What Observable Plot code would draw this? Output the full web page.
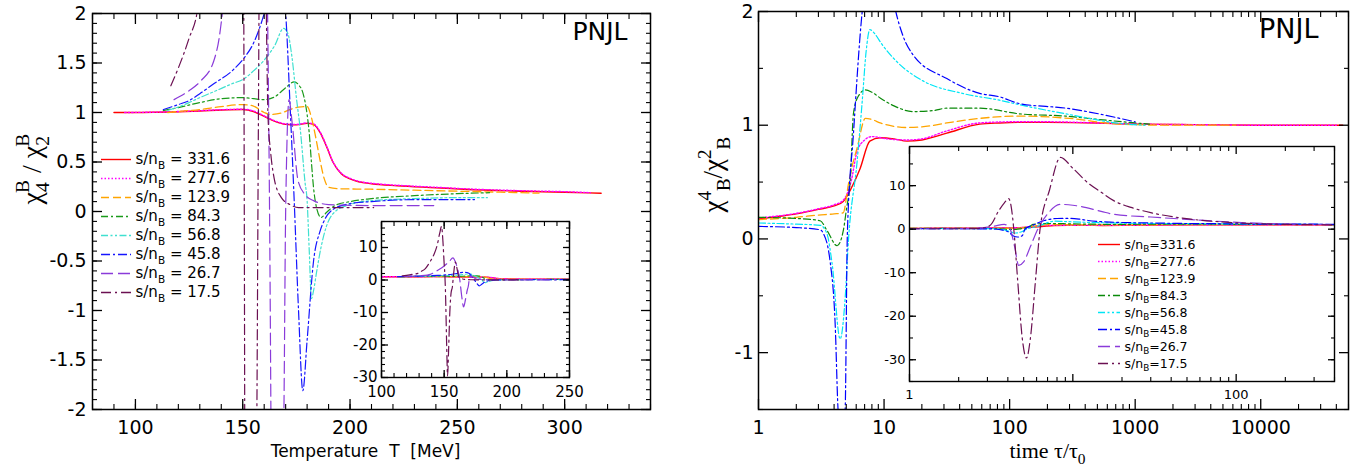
<!DOCTYPE html>
<html><head><meta charset="utf-8">
<script src="https://cdn.jsdelivr.net/npm/d3@7"></script>
<script src="https://cdn.jsdelivr.net/npm/@observablehq/plot@0.6"></script>
<style>
html,body{margin:0;padding:0;background:#fff;}
#wrap{position:relative;width:1369px;height:469px;overflow:hidden;background:#fff;}
#wrap svg{position:absolute;overflow:visible;}
</style></head><body><div id="wrap"></div>
<script>
// ================= DATA =================
const seriesNames = ["331.6","277.6","123.9","84.3","56.8","45.8","26.7","17.5"];

// Left panel: [temperature T (MeV), chi4/chi2]
const L_331_6 = [[90,1.0],[100,1.0],[110,1.003],[120,1.008],[130,1.015],[140,1.025],[150,1.03],[155,1.01],[160,0.96],[165,0.91],[170,0.88],[175,0.875],[180,0.89],[183,0.88],[186,0.8],[189,0.66],[192,0.5],[196,0.38],[200,0.33],[204,0.3],[210,0.28],[222,0.26],[240,0.24],[253,0.225],[280,0.205],[300,0.195],[317,0.185]];
const L_277_6 = [[95,1.0],[110,1.004],[120,1.01],[130,1.018],[140,1.028],[150,1.033],[155,1.015],[160,0.965],[165,0.915],[170,0.885],[175,0.88],[180,0.895],[183,0.885],[186,0.805],[189,0.665],[192,0.505],[196,0.385],[200,0.335],[204,0.305],[210,0.285],[222,0.265],[240,0.245],[253,0.23],[280,0.21],[300,0.2],[312,0.19]];
const L_123_9 = [[115,1.0],[120,1.01],[130,1.03],[140,1.06],[150,1.08],[155,1.065],[160,1.0],[163,0.98],[168,0.995],[172,1.03],[176,1.055],[180,1.06],[182,0.95],[184,0.75],[186,0.52],[188,0.33],[190,0.245],[195,0.23],[210,0.225],[230,0.215],[250,0.205],[270,0.195],[288,0.185]];
const L_84_3 = [[113,1.02],[120,1.05],[130,1.1],[140,1.14],[150,1.15],[155,1.14],[160,1.13],[165,1.16],[170,1.25],[174,1.31],[176,1.28],[178,1.2],[180,0.98],[181,0.79],[182,0.5],[183,0.24],[184,0.08],[186.5,-0.06],[189,-0.01],[193,0.06],[200,0.1],[210,0.13],[230,0.16],[250,0.18],[265,0.19]];
const L_56_8 = [[115,1.02],[118,1.04],[125,1.1],[130,1.15],[136.5,1.21],[145,1.29],[150.6,1.34],[155,1.42],[160,1.53],[165,1.68],[169,1.85],[171,1.8],[173,1.55],[175,1.15],[177,0.79],[179,0.3],[180,0.11],[181,-0.4],[182,-0.88],[183,-0.8],[184.5,-0.6],[186.5,-0.36],[189,-0.15],[192.6,-0.01],[200,0.07],[210,0.11],[230,0.13],[250,0.14],[264,0.14]];
const L_45_8 = [[113,1.03],[120,1.08],[125,1.12],[130,1.19],[136.5,1.29],[145,1.42],[150.6,1.55],[155,1.7],[160,2.0],[163,2.25],[166,2.4],[168,2.3],[170,2.0],[172,1.1],[174,0.1],[176,-1.0],[178,-1.81],[180,-1.3],[183,-0.5],[186,-0.2],[188,-0.09],[192,0.02],[200,0.08],[210,0.1],[230,0.12],[258,0.12]];
const L_26_7 = [[118,1.13],[125,1.22],[130.5,1.32],[136.5,1.52],[139,1.75],[140.5,2.0],[145,3.0],[150,4.3],[154,5.7],[157,6.8],[159,5.5],[161,3.0],[162.5,0.0],[164,-5],[165.5,-8.3],[167,-6],[168.5,-3],[169.2,-2],[170,0],[171.6,1.13],[173,0.9],[175.8,0.31],[179,0.17],[183,0.11],[190,0.07],[210,0.06],[239,0.06]];
const L_17_5 = [[116.5,1.27],[120,1.45],[125,1.75],[129,2.05],[131,2.5],[135,3.5],[139,5.8],[142,8],[144.6,11],[146.5,14.5],[147.9,16.5],[149,12],[150,5],[150.5,2],[151,-3],[152,-20],[152.7,-29.5],[153.5,-22],[154.5,-10],[155.5,-4],[156.6,-2],[157.2,0.5],[158,3.5],[159,5.5],[160,4],[161,2],[161.8,0.95],[163,0.6],[164.6,0.34],[168,0.14],[172,0.07],[176,0.04],[190,0.04],[211,0.04]];

// Right panel: [time tau/tau0, chi4/chi2]
const R_331_6 = [[1,0.175],[1.5,0.2],[2,0.22],[3,0.26],[4,0.29],[4.73,0.33],[5.5,0.45],[6.45,0.62],[7.7,0.86],[9.3,0.89],[12,0.88],[15.2,0.86],[20,0.87],[31.6,0.93],[57.7,1.01],[83,1.02],[120,1.025],[200,1.025],[500,1.02],[1000,1.01],[3000,1.005],[10000,1.0],[45000,1.0]];
const R_277_6 = [[1,0.185],[1.5,0.205],[2,0.225],[3,0.265],[4,0.3],[4.73,0.34],[5.5,0.52],[6.1,0.77],[7,0.87],[8,0.9],[10.6,0.88],[15.2,0.87],[20,0.88],[31.6,0.95],[57.7,1.02],[105,1.03],[200,1.03],[500,1.02],[1000,1.01],[3000,1.005],[10000,1.0],[40000,1.0]];
const R_123_9 = [[1,0.17],[2,0.19],[3,0.21],[4,0.22],[4.73,0.23],[5.2,0.48],[5.6,0.65],[6.1,0.8],[7.1,1.06],[8,1.05],[9.3,1.02],[12,0.99],[15.2,0.98],[20,0.985],[31.6,1.02],[57.7,1.06],[120,1.08],[300,1.06],[740,1.01],[2000,1.0],[6300,1.0]];
const R_84_3 = [[1,0.19],[2,0.18],[3.1,0.16],[3.53,0.07],[4.23,-0.06],[4.73,0.07],[5.0,0.25],[5.4,0.55],[5.7,1.1],[6.2,1.25],[7.1,1.31],[8,1.29],[9.3,1.24],[12,1.17],[17,1.12],[25,1.13],[31.6,1.15],[57.7,1.15],[120,1.1],[280,1.08],[520,1.05],[1000,1.02],[1300,1.01]];
const R_56_8 = [[1,0.14],[2,0.13],[3.1,0.12],[3.5,0.05],[3.86,-0.22],[4.47,-0.88],[4.9,-0.52],[5.2,-0.02],[6.1,0.68],[6.7,1.21],[7.2,1.65],[7.7,1.84],[8.5,1.8],[9.5,1.72],[12.6,1.56],[20.4,1.39],[42,1.28],[83,1.22],[120,1.18],[280,1.1],[850,1.01],[1200,1.0]];
const R_45_8 = [[1,0.11],[2,0.1],[3.1,0.08],[3.28,0.05],[3.72,-0.2],[4.08,-0.75],[4.3,-1.5],[4.6,-1.8],[4.9,-1.5],[5.1,0.04],[5.7,0.92],[6.7,2.0],[8,2.45],[9.5,2.5],[11,2.3],[12.4,2.0],[14,1.8],[17,1.62],[31.6,1.41],[57.7,1.28],[83,1.25],[120,1.19],[280,1.15],[1000,1.03]];
const R_26_7 = [[1,0.1],[2,0.1],[2.8,0.3],[3.3,0.7],[3.8,1.1],[4.1,0.3],[4.4,-4],[4.66,-8.3],[5.0,-7.5],[5.5,-4],[6.1,0],[7,3.5],[8.4,5.7],[10,5.5],[14.9,4.1],[17.9,3.4],[30,2.8],[53,2.2],[97,1.6],[200,1.2],[400,1.05]];
const R_17_5 = [[1,0.1],[2,0.1],[2.5,0.15],[2.84,0.3],[3.14,1.0],[3.5,4.1],[3.8,6.0],[4.05,7.0],[4.2,5],[4.35,0],[4.6,-12],[4.9,-25],[5.2,-29.6],[5.5,-25],[5.9,-12],[6.3,0],[7.2,9],[8.4,16.5],[10,14],[12.5,10.5],[14.9,8.5],[17.9,6.5],[22.7,5.0],[30,3.8],[52.8,2.3],[97,1.5],[200,1.1],[400,1.0]];

// tick values
const leftXMajor = [100,150,200,250,300];
const leftYMajor = [-2,-1.5,-1,-0.5,0,0.5,1,1.5,2];
const leftInsetXMajor = [100,150,200,250];
const insetYMajor = [-30,-20,-10,0,10];
const rightXMajor = [1,10,100,1000,10000];
const rightYMajor = [-1,0,1,2];
const rightYMinor = [-1.5,-0.5,0.5,1.5];
const rightInsetXLabels = [1,100];

// ================= STYLES / TABLES =================
const leftData = {"331.6":L_331_6,"277.6":L_277_6,"123.9":L_123_9,"84.3":L_84_3,"56.8":L_56_8,"45.8":L_45_8,"26.7":L_26_7,"17.5":L_17_5};
const rightData = {"331.6":R_331_6,"277.6":R_277_6,"123.9":R_123_9,"84.3":R_84_3,"56.8":R_56_8,"45.8":R_45_8,"26.7":R_26_7,"17.5":R_17_5};
const styles = [
  {name:"331.6", left:"#ff0000", right:"#ff0000", dash:undefined, w:1.4},
  {name:"277.6", left:"#ff00ff", right:"#ff00ff", dash:"1.5,2", w:1.4},
  {name:"123.9", left:"#ffa500", right:"#ffa500", dash:"8,4", w:1.3},
  {name:"84.3",  left:"#1a9a1a", right:"#0a8a0a", dash:"7,3,2,3", w:1.2},
  {name:"56.8",  left:"#40e0d0", right:"#00e5f5", dash:"7,2.5,2,2.5,2,2.5", w:1.2},
  {name:"45.8",  left:"#1515ff", right:"#0000ff", dash:"9,3,2,3", w:1.2},
  {name:"26.7",  left:"#8a3bd9", right:"#8a3bd9", dash:"12,5", w:1.2},
  {name:"17.5",  left:"#6b1052", right:"#6b1052", dash:"10,4,2,4", w:1.2}
];
const rightMainNames = ["331.6","277.6","123.9","84.3","56.8","45.8"];

const SANS = "'DejaVu Sans', Verdana, sans-serif";
const SERIF = "'Liberation Serif', 'DejaVu Serif', serif";
const baseStyle = {background:"transparent", fontFamily: SANS, fontSize:"18px", overflow:"visible", color:"black"};
const blank = () => "";
const fmt = d => String(d);

function lines(list, data, side) {
  return list.map(s => Plot.line(data[s.name], {curve:"monotone-x", stroke:s[side], strokeDasharray:s.dash, strokeWidth:s.w, clip:true}));
}
function axes(o) {
  const m = [];
  m.push(Plot.axisX(o.xLab, {anchor:"bottom", tickSize:0, tickPadding:o.xPad, tickFormat:fmt, fontSize:o.fs, label:null}));
  m.push(Plot.axisY(o.yLab, {anchor:"left", tickSize:0, tickPadding:o.yPad, tickFormat:fmt, fontSize:o.fs, label:null}));
  for (const anchor of ["bottom","top"]) {
    m.push(Plot.axisX(o.xMajor, {anchor, tickSize:-o.maj, tickFormat:blank, label:null, strokeWidth:1.3}));
    m.push(Plot.axisX(o.xMinor, {anchor, tickSize:-o.min, tickFormat:blank, label:null, strokeWidth:1.1}));
  }
  for (const anchor of ["left","right"]) {
    m.push(Plot.axisY(o.yMajor, {anchor, tickSize:-o.maj, tickFormat:blank, label:null, strokeWidth:1.3}));
    m.push(Plot.axisY(o.yMinor, {anchor, tickSize:-o.min, tickFormat:blank, label:null, strokeWidth:1.1}));
  }
  return m;
}
function logMinor(maxV) {
  const out = [];
  for (let k = 0; k < 6; k++) for (let m = 2; m <= 9; m++) { const v = m * Math.pow(10, k); if (v <= maxV) out.push(v); }
  return out;
}
function legend(names, side, fmtLabel, o) {
  return Plot.plot({
    width:o.width, height:o.height, margin:0,
    x:{domain:[0,1], range:o.xr, axis:null},
    y:{type:"point", domain:names, range:o.yr, axis:null},
    style:{...baseStyle},
    marks:[
      ...styles.filter(s => names.includes(s.name)).map(s => Plot.ruleY([s.name], {y:d=>d, x1:0, x2:1, stroke:s[side], strokeDasharray:s.dash, strokeWidth:1.4})),
      Plot.text(names, {x:1, y:d=>d, text:fmtLabel, textAnchor:"start", dx:o.gap, fontSize:o.fs, fill:"black"})
    ]
  });
}

const wrap = document.getElementById("wrap");
function place(svg, left, top) { svg.style.left = left + "px"; svg.style.top = top + "px"; wrap.appendChild(svg); }

// ================= LEFT MAIN =================
place(Plot.plot({
  width:660, height:469, marginLeft:92, marginRight:10, marginTop:13, marginBottom:60,
  x:{domain:[80,340]}, y:{domain:[-2,2]},
  style:{...baseStyle},
  marks:[
    ...lines(styles, leftData, "left"),
    Plot.frame({stroke:"black", strokeWidth:1.5}),
    ...axes({xLab:leftXMajor, yLab:leftYMajor, xMajor:leftXMajor, xMinor:d3.range(80,341,10), yMajor:leftYMajor, yMinor:d3.range(-20,21).map(v=>v/10), fs:19, xPad:11, yPad:6, maj:10, min:5}),
    Plot.text(["PNJL"], {text:d=>d, frameAnchor:"top-right", textAnchor:"end", lineAnchor:"top", dx:-23, dy:9, fontSize:25}),
    Plot.text(["χ_{4}@{B} / χ_{2}@{B}"], {text:d=>d, frameAnchor:"left", rotate:-90, dx:-60, dy:-7, fontSize:28, fontFamily:SERIF}),
    Plot.text(["Temperature\u00a0\u00a0T\u00a0\u00a0[MeV]"], {text:d=>d, frameAnchor:"bottom", dy:47, dx:-6, fontSize:17})
  ]
}), 0, 0);

// ================= LEFT INSET =================
place(Plot.plot({
  width:280, height:240, marginLeft:51, marginRight:41, marginTop:21, marginBottom:63,
  x:{domain:[100,250]}, y:{domain:[-30,18]},
  style:{...baseStyle},
  marks:[
    Plot.frame({fill:"white", stroke:"none"}),
    ...lines(styles, leftData, "left"),
    Plot.frame({stroke:"black", strokeWidth:1.4}),
    ...axes({xLab:leftInsetXMajor, yLab:insetYMajor, xMajor:leftInsetXMajor, xMinor:d3.range(100,251,10), yMajor:insetYMajor, yMinor:d3.range(-30,19,2), fs:15, xPad:9, yPad:4, maj:7, min:4})
  ]
}), 330, 200);

// ================= LEFT LEGEND =================
place(legend(seriesNames, "left", d => "s/n_{B} = " + d, {width:150, height:180, xr:[6,36], yr:[13,168], gap:4, fs:15}), 95, 135);

// ================= RIGHT MAIN =================
place(Plot.plot({
  width:689, height:469, marginLeft:78, marginRight:21, marginTop:11, marginBottom:60,
  x:{type:"log", domain:[1,50000]}, y:{domain:[-1.5,2]},
  style:{...baseStyle},
  marks:[
    ...lines(styles.filter(s => rightMainNames.includes(s.name)), rightData, "right"),
    Plot.frame({stroke:"black", strokeWidth:1.5}),
    ...axes({xLab:rightXMajor, yLab:rightYMajor, xMajor:rightXMajor, xMinor:logMinor(50000), yMajor:rightYMajor, yMinor:rightYMinor, fs:19, xPad:11, yPad:5, maj:10, min:5}),
    Plot.text(["PNJL"], {text:d=>d, frameAnchor:"top-right", textAnchor:"end", lineAnchor:"top", dx:-30, dy:7, fontSize:27}),
    Plot.text(["χ^{4}_{B}/χ^{2}_{B}"], {text:d=>d, frameAnchor:"left", rotate:-90, dx:-45, dy:2, fontSize:27, fontFamily:SERIF}),
    Plot.text(["time τ/τ_{0}"], {text:d=>d, frameAnchor:"bottom", dy:48, dx:-6, fontSize:22, fontFamily:SERIF})
  ]
}), 680, 0);

// ================= RIGHT INSET =================
place(Plot.plot({
  width:480, height:300, marginLeft:29, marginRight:26, marginTop:26, marginBottom:39,
  x:{type:"log", domain:[1,400]}, y:{domain:[-35,19]},
  style:{...baseStyle},
  marks:[
    Plot.frame({fill:"white", stroke:"none"}),
    ...lines(styles, rightData, "right"),
    Plot.frame({stroke:"black", strokeWidth:1.4}),
    ...axes({xLab:rightInsetXLabels, yLab:insetYMajor, xMajor:[1,10,100], xMinor:logMinor(400), yMajor:insetYMajor, yMinor:d3.range(-35,19,5), fs:13, xPad:8, yPad:4, maj:7, min:4})
  ]
}), 880, 120);

// ================= RIGHT LEGEND =================
place(legend(seriesNames, "right", d => "s/n_{B}=" + d, {width:110, height:160, xr:[8,30], yr:[10,149], gap:4, fs:12.5}), 1090, 224);

// ================= rich text (sub/superscripts) =================
function esc(s) { return s.replace(/&/g,"&amp;").replace(/</g,"&lt;"); }
function richify(el) {
  const s = el.textContent;
  if (!/[_^@]\{/.test(s)) return;
  const fs = parseFloat(getComputedStyle(el).fontSize) || 16;
  const sfs = 0.7 * fs;
  const off = {"_": 0.28*fs, "^": -0.42*fs, "@": -0.45*fs};
  const re = /([_^@])\{([^}]*)\}/g;
  let html = "", last = 0, cur = 0, prevLen = 0, m;
  while ((m = re.exec(s))) {
    if (m.index > last) { html += `<tspan dy="${(-cur).toFixed(1)}">${esc(s.slice(last, m.index))}</tspan>`; cur = 0; }
    const o = off[m[1]];
    const dx = m[1] === "@" ? ` dx="${(-prevLen*0.55*sfs).toFixed(1)}"` : "";
    html += `<tspan dy="${(o-cur).toFixed(1)}" font-size="${sfs.toFixed(1)}"${dx}>${esc(m[2])}</tspan>`;
    cur = o; prevLen = m[2].length; last = re.lastIndex;
  }
  if (last < s.length) html += `<tspan dy="${(-cur).toFixed(1)}">${esc(s.slice(last))}</tspan>`;
  el.innerHTML = html;
}
wrap.querySelectorAll("text").forEach(richify);
</script>
</body></html>
